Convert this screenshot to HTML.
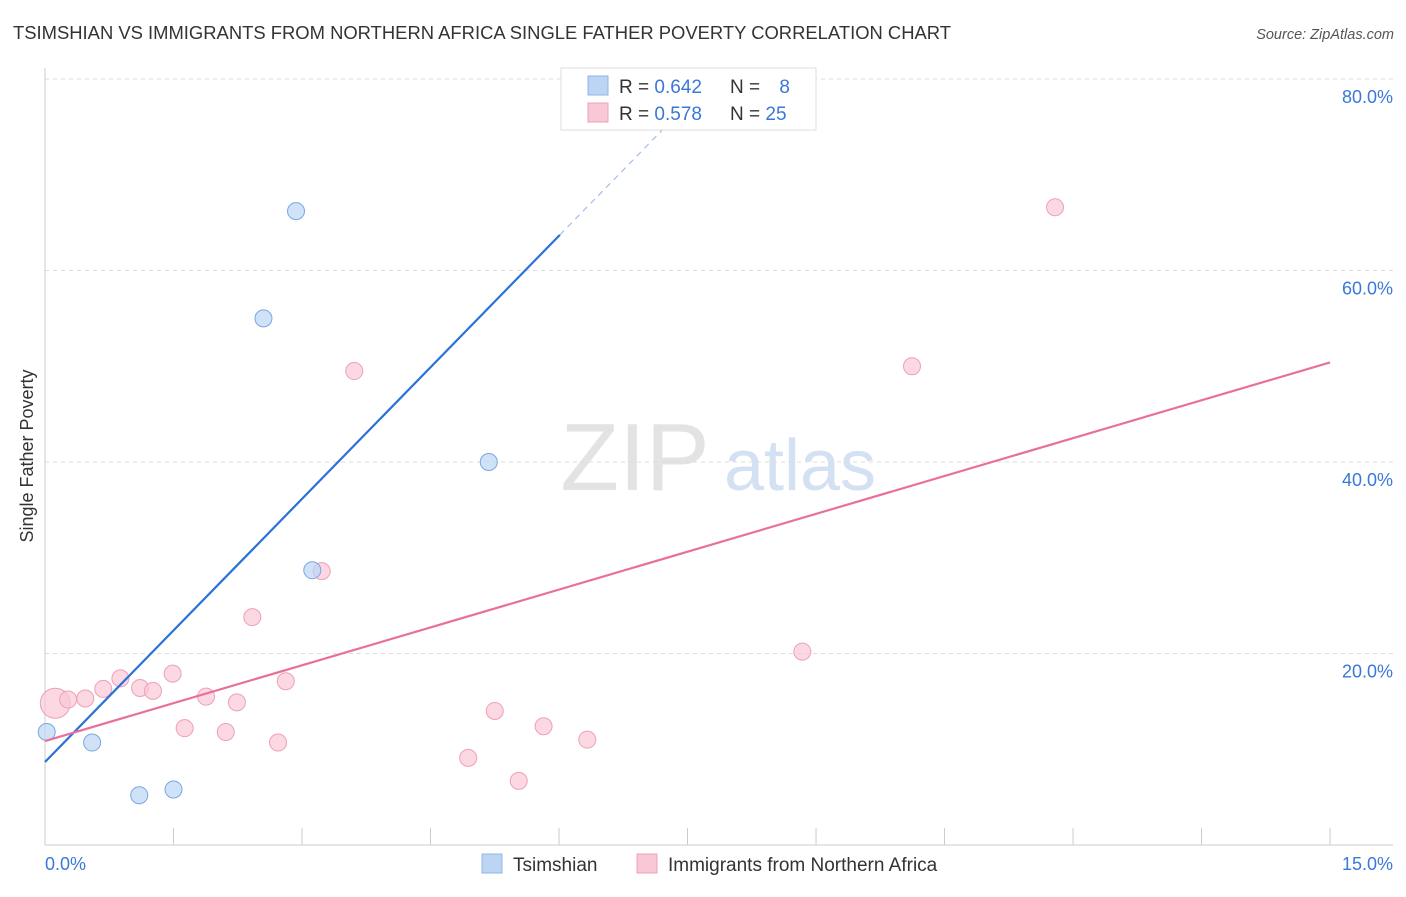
<!DOCTYPE html>
<html><head><meta charset="utf-8"><style>
body{margin:0;background:#fff;font-family:"Liberation Sans",sans-serif}
svg text{font-family:"Liberation Sans",sans-serif}
</style></head><body>
<svg id="c" width="1406" height="892">
<text x="13" y="39" font-size="18" textLength="938" lengthAdjust="spacingAndGlyphs" fill="#333">TSIMSHIAN VS IMMIGRANTS FROM NORTHERN AFRICA SINGLE FATHER POVERTY CORRELATION CHART</text>
<text x="1394" y="39" font-size="14.5" font-style="italic" fill="#555" text-anchor="end">Source: ZipAtlas.com</text>
<text x="33" y="456" font-size="18" fill="#333" transform="rotate(-90 33 456)" text-anchor="middle">Single Father Poverty</text>
<g><text x="635" y="490" font-size="96" font-family="Liberation Serif" fill="#e3e3e3" text-anchor="middle">ZIP</text><text x="800" y="490" font-size="72" fill="#d3e1f3" text-anchor="middle">atlas</text></g>
<g id="grid"></g><g id="marks"></g>
<g>
<rect x="561" y="68" width="255" height="62" fill="#fff" stroke="#ddd"/>
<rect x="588" y="76" width="20" height="19" fill="#bcd5f5" stroke="#8fb4e6"/>
<rect x="588" y="103" width="20" height="19" fill="#f9c8d6" stroke="#eea0b8"/>
<text x="619" y="93" font-size="19" fill="#333">R = <tspan fill="#3a78d8">0.642</tspan></text>
<text x="730" y="93" font-size="19" fill="#333">N = </text><text x="790" y="93" font-size="19" fill="#3a78d8" text-anchor="end">8</text>
<text x="619" y="120" font-size="19" fill="#333">R = <tspan fill="#3a78d8"> 0.578</tspan></text>
<text x="730" y="120" font-size="19" fill="#333">N = <tspan fill="#3a78d8">25</tspan></text>
</g>
<g>
<rect x="482" y="854" width="20" height="19" fill="#bcd5f5" stroke="#8fb4e6"/>
<text x="513" y="871" font-size="19" fill="#333">Tsimshian</text>
<rect x="637" y="854" width="20" height="19" fill="#f9c8d6" stroke="#eea0b8"/>
<text x="668" y="871" font-size="19" fill="#333">Immigrants from Northern Africa</text>
</g>
</svg>
<script>
const yTicks=[20,40,60,80];
const blueX=[0.02,0.55,1.1,1.5,2.55,2.93,3.12,5.18];
const blueY=[11.8,10.7,5.2,5.8,55.0,66.2,28.7,40.0];
const pinkX=[0.12,0.27,0.47,0.68,0.88,1.11,1.26,1.49,1.63,1.88,2.11,2.24,2.42,2.72,2.81,3.23,3.61,4.94,5.25,5.53,5.82,6.33,8.84,10.12,11.79];
const pinkY=[14.8,15.2,15.3,16.3,17.4,16.4,16.1,17.9,12.2,15.5,11.8,14.9,23.8,10.7,17.1,28.6,49.5,9.1,14.0,6.7,12.4,11.0,20.2,50.0,66.6];
const blueLine=[8.67,9.16];
const pinkLine=[10.86,2.636];
const X=v=>45+v*85.67, Y=v=>845-v*9.575;
const NS="http://www.w3.org/2000/svg";
const g=document.getElementById('grid'), m=document.getElementById('marks');
function mk(p,t,a){const e=document.createElementNS(NS,t);for(const k in a)e.setAttribute(k,a[k]);p.appendChild(e);return e;}
yTicks.forEach(t=>{
 const l=mk(g,'line',{x1:45,x2:1393,y1:Y(t),y2:Y(t),stroke:'#ddd','stroke-dasharray':'4,4'});
 
 
 const tx=mk(g,'text',{x:1393,y:Y(t)+24,'font-size':18,fill:'#3a78d8','text-anchor':'end'});tx.textContent=t.toFixed(1)+'%';
 
 
});
mk(g,'line',{x1:45,x2:45,y1:68,y2:845,stroke:'#ccc'});
mk(g,'line',{x1:45,x2:1393,y1:845,y2:845,stroke:'#ccc'});
for(let i=1;i<=10;i++){const l=mk(g,'line',{x1:X(i*1.5),x2:X(i*1.5),y1:828,y2:845,stroke:'#ccc'});}
let t0=mk(g,'text',{x:45,y:870,'font-size':18,fill:'#3a78d8'});t0.textContent='0.0%';


let t1=mk(g,'text',{x:1393,y:870,'font-size':18,fill:'#3a78d8','text-anchor':'end'});t1.textContent='15.0%';


pinkX.forEach((x,i)=>{const c=mk(m,'circle',{cx:X(x),cy:Y(pinkY[i]),r:i==0?15:8.5,fill:'#f9c8d6','fill-opacity':0.7,stroke:'#eea0b8'});
 
 });
blueX.forEach((x,i)=>{const c=mk(m,'circle',{cx:X(x),cy:Y(blueY[i]),r:8.5,fill:'#bcd5f5','fill-opacity':0.7,stroke:'#7aa6e0'});
 
 });
let bl=mk(m,'line',{x1:X(0),y1:Y(blueLine[0]),x2:X(6.01),y2:Y(blueLine[0]+blueLine[1]*6.01),stroke:'#2a72d8','stroke-width':2.2});


let bd=mk(m,'line',{x1:X(6.01),y1:Y(blueLine[0]+blueLine[1]*6.01),x2:X(7.24),y2:Y(blueLine[0]+blueLine[1]*7.24),stroke:'#9fbfe8','stroke-width':1.2,'stroke-dasharray':'6,5'});


let pl=mk(m,'line',{x1:X(0),y1:Y(pinkLine[0]),x2:X(15),y2:Y(pinkLine[0]+pinkLine[1]*15),stroke:'#e8709a','stroke-width':2.2});


</script>
</body></html>
